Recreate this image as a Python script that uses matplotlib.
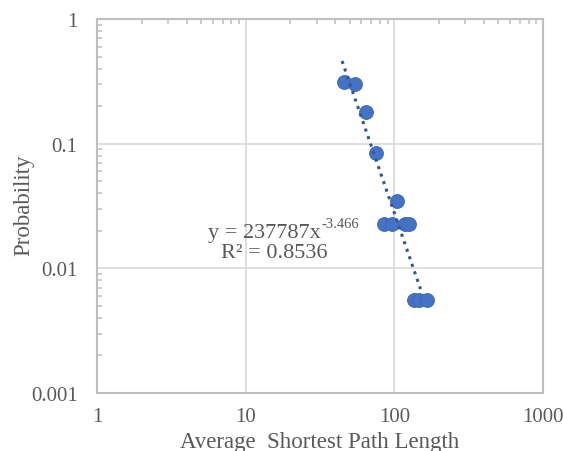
"""Log-log scatter of path length probability with power-law trendline."""

import matplotlib
matplotlib.use("Agg")
import matplotlib.pyplot as plt
from matplotlib.ticker import LogLocator, NullFormatter
import numpy as np

path_length = [45.9, 54.5, 64.7, 75.5, 85.6, 97.0, 104.8, 118.7, 126.0, 136.0, 147.5, 167.0]
probability = [0.31, 0.30, 0.178, 0.0846, 0.0226, 0.0226, 0.0347, 0.0226, 0.0226, 0.0056, 0.0056, 0.0056]

fit_coef = 237787
fit_exp = -3.466
fit_range = [44.5, 150.0]

plt.rcParams["font.family"] = ["Liberation Serif", "DejaVu Serif"]

fig = plt.figure(figsize=(5.63, 4.52), dpi=100)
ax = fig.add_axes([97 / 563, 1 - 394 / 452, 446 / 563, 374 / 452])

ax.set_xscale("log")
ax.set_yscale("log")
ax.set_xlim(1, 1000)
ax.set_ylim(0.001, 1)

ax.grid(True, which="major", color="#d9d9d9", linewidth=1.2)
ax.set_axisbelow(True)
for s in ax.spines.values():
    s.set_color("#bfbfbf")
    s.set_linewidth(1.5)

ax.set_xticks([1, 10, 100, 1000])
ax.set_xticklabels(["1", "10", "100", "1000"])
ax.set_yticks([0.001, 0.01, 0.1, 1])
ax.set_yticklabels(["0.001", "0.01", "0.1", "1"])
ax.xaxis.set_minor_locator(LogLocator(base=10, subs=np.arange(2, 10)))
ax.yaxis.set_minor_locator(LogLocator(base=10, subs=np.arange(2, 10)))
ax.xaxis.set_minor_formatter(NullFormatter())
ax.yaxis.set_minor_formatter(NullFormatter())

ax.tick_params(which="major", length=0, colors="#595959", labelsize=15)
ax.tick_params(axis="y", which="major", pad=14)
ax.tick_params(axis="x", which="major", pad=10)
ax.tick_params(which="minor", direction="in", length=3.5, width=1.1, color="#bfbfbf",
               top=True, bottom=False, left=True, right=False)

ax.scatter(path_length, probability, s=100, color="#4472C4", edgecolor="#3a65b5",
           linewidth=0.6, zorder=3)

xf = np.geomspace(fit_range[0], fit_range[1], 50)
ax.plot(xf, fit_coef * xf ** fit_exp, linestyle=(0, (1, 1.6)), color="#2F5597",
        linewidth=2.2, zorder=4)

fig.text(208 / 563, 1 - 234 / 452, "y = 237787x", ha="left", va="center",
         fontsize=16, color="#595959")
fig.text(321 / 563, 1 - 225 / 452, "-3.466", ha="left", va="center",
         fontsize=10.5, color="#595959")
fig.text(274 / 563, 1 - 254 / 452, "R² = 0.8536", ha="center", va="center",
         fontsize=16, color="#595959")

ax.set_xlabel("Average  Shortest Path Length", fontsize=16.5, color="#595959")
ax.xaxis.set_label_coords(0.5, (394 - 432) / 374)
ax.set_ylabel("Probability", fontsize=16.5, color="#595959")
ax.yaxis.set_label_coords((34 - 97) / 446, 0.5 - (205 - 207) / 374)

fig.savefig("out.png", dpi=100)
